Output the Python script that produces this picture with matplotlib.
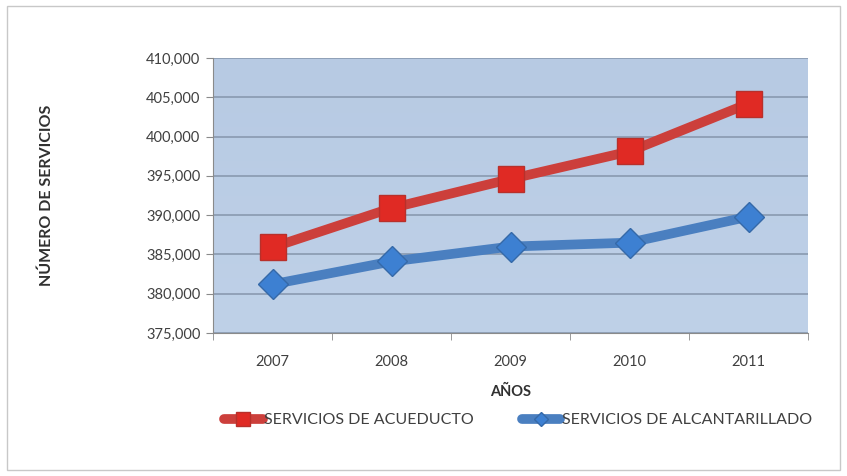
import matplotlib
matplotlib.use("Agg")
import matplotlib.pyplot as plt
import numpy as np
from matplotlib.ticker import FuncFormatter, FixedLocator
from matplotlib.colors import LinearSegmentedColormap

years = ["2007", "2008", "2009", "2010", "2011"]
acueducto = [385900, 390900, 394600, 398100, 404200]
alcantarillado = [381200, 384100, 386000, 386500, 389800]
yticks = [375000, 380000, 385000, 390000, 395000, 400000, 405000, 410000]

plt.rcParams['font.family'] = ['Lato', 'DejaVu Sans']

fig = plt.figure(figsize=(8.47, 4.76), dpi=100)
border = plt.Rectangle((0.008, 0.012), 0.984, 0.976, transform=fig.transFigure,
                       fill=False, edgecolor='#c8c8c8', linewidth=1)
fig.patches.append(border)

ax = fig.add_axes([213/847, 1-333/476, (808-213)/847, (333-58)/476])
x = np.arange(len(years))

grad = np.linspace(0, 1, 256).reshape(-1, 1)
cmap = LinearSegmentedColormap.from_list('bg', ['#bfd1e8', '#b7cae3'])
ax.imshow(grad, aspect='auto', cmap=cmap, extent=[-0.5, 4.5, 375000, 410000],
          origin='lower', zorder=0)

ax.set_xlim(-0.5, 4.5)
ax.set_ylim(375000, 410000)
ax.set_yticks(yticks)
ax.yaxis.set_major_formatter(FuncFormatter(lambda v, p: f"{int(v):,}"))
ax.grid(axis='y', color='#8595ab', linewidth=1.1, zorder=1)

ax.plot(x, acueducto, color='#cc3f3b', linewidth=7, marker='s', markersize=19,
        markerfacecolor='#e02a24', markeredgecolor='#b8302b', markeredgewidth=1.0,
        zorder=4, solid_capstyle='round', label='SERVICIOS DE ACUEDUCTO')
ax.plot(x, alcantarillado, color='#4a7fc0', linewidth=7, marker='D', markersize=15,
        markerfacecolor='#3d80d2', markeredgecolor='#3569a8', markeredgewidth=1.0,
        zorder=3, solid_capstyle='round', label='SERVICIOS DE ALCANTARILLADO')

ax.set_xticks(x)
ax.set_xticklabels(years)
ax.xaxis.set_minor_locator(FixedLocator(np.arange(-0.5, 5.0, 1.0)))
ax.tick_params(axis='x', which='major', length=0, pad=16, labelsize=10.5, colors='#404040')
ax.tick_params(axis='x', which='minor', length=5, color='#8a8a8a')
ax.tick_params(axis='y', length=5, color='#8a8a8a', labelsize=10.5, labelcolor='#404040', pad=4)
for s in ['top', 'right']:
    ax.spines[s].set_visible(False)
ax.spines['left'].set_color('#8a8a8a')
ax.spines['bottom'].set_color('#8a8a8a')

ax.set_xlabel('AÑOS', fontsize=10.5, fontweight='bold', color='#303030', labelpad=11)
fig.text(47/847, 1-195/476, 'NÚMERO DE SERVICIOS', rotation=90, fontsize=11.5,
         fontweight='bold', color='#303030', ha='center', va='center')

leg = fig.legend(loc='center', bbox_to_anchor=(518/847, 1-420/476), ncol=2,
                 frameon=False, fontsize=11.5, handlelength=2.4, handletextpad=0.1,
                 columnspacing=3.0, markerscale=0.5)
for t in leg.get_texts():
    t.set_color('#404040')

fig.savefig('out.png', dpi=100)
